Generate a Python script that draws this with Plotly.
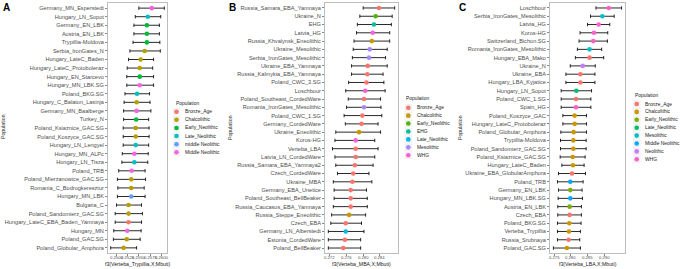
import plotly.graph_objects as go

W, H = 685, 269

# ---------------- Panel A : f3(Verteba_Trypillia, X; Mbuti) ----------------
a_pops = ["Germany_MN_Esperstedt", "Hungary_LN_Sopot", "Germany_EN_LBK", "Austria_EN_LBK",
          "Trypillia-Moldova", "Serbia_IronGates_N", "Hungary_LateC_Baden",
          "Hungary_LateC_Protoboleraz", "Hungary_EN_Starcevo", "Hungary_MN_LBK.SG",
          "Poland_BKG.SG", "Hungary_C_Balaton_Lasinja", "Germany_MN_Baalberge", "Turkey_N",
          "Poland_Ksiaznice_GAC.SG", "Poland_Koszyce_GAC.SG", "Hungary_LN_Lengyel",
          "Hungary_MN_ALPc", "Hungary_LN_Tisza", "Poland_TRB", "Poland_Mierzanowice_GAC.SG",
          "Romania_C_Bodrogkeresztur", "Hungary_MN_LBK", "Bulgaria_C",
          "Poland_Sandomierz_GAC.SG", "Hungary_LateC_EBA_Baden_Yamnaya", "Hungary_MN",
          "Poland_GAC.SG", "Poland_Globular_Amphora"]
a_est = [0.2579, 0.2570, 0.2568, 0.2568, 0.2568, 0.2563, 0.2554, 0.2552, 0.2552, 0.2552,
         0.2546, 0.2545, 0.2545, 0.2544, 0.2543, 0.2543, 0.2543, 0.2540, 0.2540, 0.2534,
         0.2533, 0.2533, 0.2533, 0.2527, 0.2527, 0.2527, 0.2524, 0.2523, 0.2516]
a_lo = [0.2550, 0.2542, 0.2539, 0.2539, 0.2537, 0.2530, 0.2527, 0.2524, 0.2523, 0.2523,
        0.2519, 0.2517, 0.2516, 0.2516, 0.2515, 0.2515, 0.2515, 0.2513, 0.2512, 0.2505,
        0.2502, 0.2503, 0.2502, 0.2500, 0.2497, 0.2497, 0.2494, 0.2493, 0.2487]
a_hi = [0.2607, 0.2599, 0.2596, 0.2596, 0.2597, 0.2598, 0.2583, 0.2581, 0.2583, 0.2583,
        0.2574, 0.2575, 0.2577, 0.2572, 0.2573, 0.2573, 0.2572, 0.2571, 0.2570, 0.2564,
        0.2565, 0.2562, 0.2564, 0.2556, 0.2558, 0.2556, 0.2555, 0.2553, 0.2545]
a_group = ["Middle Neolithic", "Late_Neolithic", "Early_Neolithic", "Early_Neolithic",
           "Early_Neolithic", "Chalcolithic", "Chalcolithic", "Chalcolithic",
           "Early_Neolithic", "Middle Neolithic", "Late_Neolithic", "Chalcolithic",
           "Middle Neolithic", "Early_Neolithic", "Chalcolithic", "Chalcolithic",
           "Late_Neolithic", "Middle Neolithic", "Late_Neolithic", "Middle Neolithic",
           "Chalcolithic", "Chalcolithic", "middle Neolithic", "Chalcolithic",
           "Chalcolithic", "Bronze_Age", "Middle Neolithic", "Chalcolithic", "Chalcolithic"]
a_levels = ["Bronze_Age", "Chalcolithic", "Early_Neolithic", "Late_Neolithic",
            "middle Neolithic", "Middle Neolithic"]
a_ticks = [0.2500, 0.2525, 0.2550, 0.2575, 0.2600]
a_ticktext = ["0.2500", "0.2525", "0.2550", "0.2575", "0.2600"]

# ---------------- Panel B : f3(Verteba_MBA, X; Mbuti) ----------------
b_pops = ["Russia_Samara_EBA_Yamnaya", "Ukraine_N", "EHG", "Latvia_HG",
          "Russia_Khvalynsk_Eneolithic", "Ukraine_Mesolithic", "Serbia_IronGates_Mesolithic",
          "Ukraine_EBA_Yamnaya", "Russia_Kalmykia_EBA_Yamnaya", "Poland_CWC_3.SG",
          "Loschbour", "Poland_Southeast_CordedWare", "Romania_IronGates_Mesolithic",
          "Poland_CWC_1.SG", "Germany_CordedWare", "Ukraine_Eneolithic", "Koros-HG",
          "Verteba_LBA", "Latvia_LN_CordedWare", "Russia_Samara_EBA_Yamnaya2",
          "Czech_CordedWare", "Ukraine_MBA", "Germany_EBA_Unetice",
          "Poland_Southeast_BellBeaker", "Russia_Caucasus_EBA_Yamnaya",
          "Russia_Steppe_Eneolithic", "Czech_EBA", "Germany_LN_Alberstedt",
          "Estonia_CordedWare", "Poland_BellBeaker"]
b_est = [0.2838, 0.2830, 0.2826, 0.2823, 0.2821, 0.2816, 0.2814, 0.2811, 0.2810, 0.2808,
         0.2805, 0.2802, 0.2802, 0.2798, 0.2796, 0.2790, 0.2782, 0.2782, 0.2782, 0.2780,
         0.2776, 0.2774, 0.2770, 0.2770, 0.2770, 0.2766, 0.2758, 0.2758, 0.2756, 0.2752]
b_lo = [0.2800, 0.2792, 0.2786, 0.2784, 0.2778, 0.2776, 0.2774, 0.2772, 0.2772, 0.2765,
        0.2758, 0.2764, 0.2760, 0.2754, 0.2757, 0.2734, 0.2732, 0.2726, 0.2732, 0.2734,
        0.2738, 0.2728, 0.2730, 0.2730, 0.2728, 0.2724, 0.2722, 0.2716, 0.2716, 0.2716]
b_hi = [0.2876, 0.2870, 0.2868, 0.2864, 0.2864, 0.2858, 0.2854, 0.2858, 0.2848, 0.2850,
        0.2853, 0.2842, 0.2843, 0.2845, 0.2836, 0.2842, 0.2828, 0.2836, 0.2828, 0.2824,
        0.2814, 0.2821, 0.2808, 0.2810, 0.2810, 0.2806, 0.2796, 0.2802, 0.2794, 0.2794]
b_group = ["Bronze_Age", "Early_Neolithic", "EHG", "WHG", "Chalcolithic", "Mesolithic",
           "Mesolithic", "Bronze_Age", "Bronze_Age", "Bronze_Age", "WHG", "Bronze_Age",
           "Mesolithic", "Bronze_Age", "Bronze_Age", "Chalcolithic", "WHG", "Bronze_Age",
           "Bronze_Age", "Bronze_Age", "Bronze_Age", "Bronze_Age", "Bronze_Age",
           "Bronze_Age", "Bronze_Age", "Chalcolithic", "Bronze_Age", "Late_Neolithic",
           "Bronze_Age", "Bronze_Age"]
b_levels = ["Bronze_Age", "Chalcolithic", "Early_Neolithic", "EHG", "Late_Neolithic",
            "Mesolithic", "WHG"]
b_ticks = [0.272, 0.276, 0.280, 0.284]
b_ticktext = ["0.272", "0.276", "0.280", "0.284"]

# ---------------- Panel C : f3(Verteba_LBA, X; Mbuti) ----------------
c_pops = ["Loschbour", "Serbia_IronGates_Mesolithic", "Latvia_HG", "Koros-HG",
          "Switzerland_Bichon.SG", "Romania_IronGates_Mesolithic", "Hungary_EBA_Mako",
          "Ukraine_N", "Ukraine_EBA", "Hungary_LBA_Kyjatice", "Hungary_LN_Sopot",
          "Poland_CWC_1.SG", "Spain_HG", "Poland_Koszyce_GAC", "Hungary_LateC_Protoboleraz",
          "Poland_Globular_Amphora", "Trypillia-Moldova", "Poland_Sandomierz_GAC.SG",
          "Poland_Ksiaznice_GAC.SG", "Hungary_LateC_Baden", "Ukraine_EBA_GlobularAmphora",
          "Poland_TRB", "Germany_EN_LBK", "Hungary_MN_LBK.SG", "Austria_EN_LBK",
          "Czech_EBA", "Poland_BKG.SG", "Verteba_Trypillia", "Russia_Srubnaya",
          "Poland_GAC.SG"]
c_est = [0.2912, 0.2893, 0.2882, 0.2868, 0.2866, 0.2855, 0.2855, 0.2835, 0.2828, 0.2828,
         0.2816, 0.2815, 0.2815, 0.2811, 0.2811, 0.2808, 0.2807, 0.2807, 0.2805, 0.2806,
         0.2803, 0.2798, 0.2798, 0.2798, 0.2796, 0.2796, 0.2795, 0.2794, 0.2793, 0.2788]
c_lo = [0.2874, 0.2858, 0.2849, 0.2827, 0.2824, 0.2819, 0.2813, 0.2798, 0.2785, 0.2785,
        0.2771, 0.2771, 0.2771, 0.2776, 0.2776, 0.2770, 0.2769, 0.2769, 0.2768, 0.2773,
        0.2763, 0.2760, 0.2763, 0.2762, 0.2761, 0.2761, 0.2760, 0.2760, 0.2760, 0.2748]
c_hi = [0.2950, 0.2928, 0.2915, 0.2909, 0.2908, 0.2891, 0.2897, 0.2872, 0.2871, 0.2871,
        0.2861, 0.2859, 0.2859, 0.2846, 0.2846, 0.2846, 0.2845, 0.2845, 0.2842, 0.2839,
        0.2843, 0.2836, 0.2833, 0.2834, 0.2831, 0.2831, 0.2830, 0.2828, 0.2826, 0.2828]
c_group = ["WHG", "Mesolithic", "WHG", "WHG", "WHG", "Mesolithic", "Bronze_Age",
           "Neolithic", "Bronze_Age", "Bronze_Age", "Late_Neolithic", "Bronze_Age", "WHG",
           "Chalcolithic", "Chalcolithic", "Chalcolithic", "Chalcolithic", "Chalcolithic",
           "Chalcolithic", "Chalcolithic", "Bronze_Age", "Middle Neolithic",
           "Early_Neolithic", "Middle Neolithic", "Early_Neolithic", "Bronze_Age",
           "Chalcolithic", "Chalcolithic", "Bronze_Age", "Chalcolithic"]
c_levels = ["Bronze_Age", "Chalcolithic", "Early_Neolithic", "Late_Neolithic", "Mesolithic",
            "Middle Neolithic", "Neolithic", "WHG"]
c_ticks = [0.275, 0.280, 0.285, 0.290]
c_ticktext = ["0.275", "0.280", "0.285", "0.290"]

# ---------------- styling (ggplot hue palettes) ----------------
pal6 = ["#F8766D", "#B79F00", "#00BA38", "#00BFC4", "#619CFF", "#F564E3"]
pal7 = ["#F8766D", "#C49A00", "#53B400", "#00C094", "#00B6EB", "#A58AFF", "#FB61D7"]
pal8 = ["#F8766D", "#CD9600", "#7CAE00", "#00BE67", "#00BFC4", "#00A9FF", "#C77CFF", "#FF61CC"]

FONT = "Liberation Sans, Arial, sans-serif"

panels = [
    dict(pops=a_pops, est=a_est, lo=a_lo, hi=a_hi, grp=a_group, levels=a_levels, pal=pal6,
         ticks=a_ticks, ticktext=a_ticktext, xtitle="f3(Verteba_Trypillia,X;Mbuti)",
         letter="A", px0=108, px1=167, legdot=176.5, legtxt=6.2, legtitle=(174, 103.3),
         legtop=111.7, legstep=8.12, letx=1, ytx=3),
    dict(pops=b_pops, est=b_est, lo=b_lo, hi=b_hi, grp=b_group, levels=b_levels, pal=pal7,
         ticks=b_ticks, ticktext=b_ticktext, xtitle="f3(Verteba_MBA,X;Mbuti)",
         letter="B", px0=325, px1=398, legdot=408.3, legtxt=6.7, legtitle=(404, 99),
         legtop=107.7, legstep=7.93, letx=227, ytx=230),
    dict(pops=c_pops, est=c_est, lo=c_lo, hi=c_hi, grp=c_group, levels=c_levels, pal=pal8,
         ticks=c_ticks, ticktext=c_ticktext, xtitle="f3(Verteba_LBA,X;Mbuti)",
         letter="C", px0=550, px1=625, legdot=636.7, legtxt=6.0, legtitle=(633, 95),
         legtop=104, legstep=7.9, letx=457, ytx=460),
]

PLOT_TOP, PLOT_BOT = 3, 253
LEG_W = 45.0   # width in px of each legend's helper axis


def px_x(v):
    return v / W


def px_y(v):
    return 1 - v / H


fig = go.Figure()
layout = dict(width=W, height=H, margin=dict(l=0, r=0, t=0, b=0),
              paper_bgcolor="white", plot_bgcolor="white", showlegend=False,
              font=dict(family=FONT, color="#000000"))
annotations = []

for i, p in enumerate(panels):
    ax = i + 1
    lx = i + 4
    xa = "x" if ax == 1 else f"x{ax}"
    ya = "y" if ax == 1 else f"y{ax}"
    lxa, lya = f"x{lx}", f"y{lx}"
    n = len(p["pops"])
    color_of = dict(zip(p["levels"], p["pal"]))

    # data points with horizontal error bars
    for lev in p["levels"]:
        idx = [k for k, g in enumerate(p["grp"]) if g == lev]
        if not idx:
            continue
        fig.add_trace(go.Scatter(
            x=[p["est"][k] for k in idx],
            y=[p["pops"][k] for k in idx],
            mode="markers",
            marker=dict(color=color_of[lev], size=4.6, line=dict(width=0)),
            error_x=dict(type="data", symmetric=False,
                         array=[p["hi"][k] - p["est"][k] for k in idx],
                         arrayminus=[p["est"][k] - p["lo"][k] for k in idx],
                         color="#111111", thickness=0.9, width=1.7),
            xaxis=xa, yaxis=ya, showlegend=False, name=lev))

    lo_min, hi_max = min(p["lo"]), max(p["hi"])
    span = hi_max - lo_min
    xr = [lo_min - 0.05 * span, hi_max + 0.05 * span]

    layout["xaxis" if ax == 1 else f"xaxis{ax}"] = dict(
        domain=[px_x(p["px0"]), px_x(p["px1"])], range=xr, anchor=ya,
        tickmode="array", tickvals=p["ticks"], showticklabels=False,
        ticks="outside", ticklen=2, tickwidth=0.6, tickcolor="#333333",
        showline=True, mirror=True, linecolor="#BDBDBD", linewidth=1,
        showgrid=False, zeroline=False, fixedrange=True)
    layout["yaxis" if ax == 1 else f"yaxis{ax}"] = dict(
        domain=[px_y(PLOT_BOT), px_y(PLOT_TOP)], anchor=xa,
        type="category", categoryorder="array", categoryarray=p["pops"],
        range=[n - 0.4, -0.6],
        ticks="outside", ticklen=2, tickwidth=0.6, tickcolor="#333333",
        tickfont=dict(size=5.6, color="#4D4D4D", family=FONT),
        showline=True, mirror=True, linecolor="#BDBDBD", linewidth=1,
        showgrid=False, zeroline=False, fixedrange=True)

    # x tick labels (placed just under the frame)
    for tv, tt in zip(p["ticks"], p["ticktext"]):
        annotations.append(dict(text=tt, x=tv, xref=xa, y=px_y(257.3), yref="paper",
                                xanchor="center", yanchor="middle", showarrow=False,
                                font=dict(size=4.2, color="#4D4D4D")))

    # legend drawn on its own small axes
    nl = len(p["levels"])
    top = p["legtop"] - p["legstep"] / 2
    bot = top + nl * p["legstep"]
    layout[f"xaxis{lx}"] = dict(domain=[px_x(p["legdot"] - 4.5), px_x(p["legdot"] - 4.5 + LEG_W)],
                                range=[0, LEG_W], visible=False, anchor=lya, fixedrange=True)
    layout[f"yaxis{lx}"] = dict(domain=[px_y(bot), px_y(top)], type="category",
                                categoryorder="array", categoryarray=p["levels"],
                                range=[nl - 0.5, -0.5], visible=False, anchor=lxa,
                                fixedrange=True)
    fig.add_trace(go.Scatter(x=[4.5] * nl, y=p["levels"], mode="markers",
                             marker=dict(symbol="square", size=7.6, color="#F2F2F2",
                                         line=dict(width=0)),
                             xaxis=lxa, yaxis=lya, showlegend=False, hoverinfo="skip"))
    fig.add_trace(go.Scatter(x=[4.5] * nl, y=p["levels"], mode="markers",
                             marker=dict(size=4.6, color=p["pal"], line=dict(width=0)),
                             xaxis=lxa, yaxis=lya, showlegend=False))
    for lev in p["levels"]:
        annotations.append(dict(text=lev, x=4.5 + p["legtxt"], y=lev,
                                xref=lxa, yref=lya, xanchor="left", yanchor="middle",
                                showarrow=False, font=dict(size=4.9, color="#1A1A1A")))
    annotations.append(dict(text="Population", x=px_x(p["legtitle"][0]),
                            y=px_y(p["legtitle"][1]), xref="paper", yref="paper",
                            xanchor="left", yanchor="middle", showarrow=False,
                            font=dict(size=4.9, color="#1A1A1A")))

    # panel letter, axis titles
    annotations.append(dict(text="<b>" + p["letter"] + "</b>", x=px_x(p["letx"]),
                            y=px_y(0.5), xref="paper", yref="paper", xanchor="left",
                            yanchor="top", showarrow=False,
                            font=dict(size=10, color="#000000", family=FONT)))
    annotations.append(dict(text="Population", x=px_x(p["ytx"]), y=px_y(127),
                            xref="paper", yref="paper", xanchor="center",
                            yanchor="middle", textangle=-90, showarrow=False,
                            font=dict(size=5.2, color="#1A1A1A")))
    annotations.append(dict(text=p["xtitle"], x=0.5, xref=f"{xa} domain",
                            y=px_y(263.5), yref="paper", xanchor="center",
                            yanchor="middle", showarrow=False,
                            font=dict(size=5.2, color="#1A1A1A")))

layout["annotations"] = annotations
fig.update_layout(**layout)
fig.write_html("out.html", config={"displayModeBar": False, "staticPlot": True},
               post_script="document.body.style.margin='0px';")
